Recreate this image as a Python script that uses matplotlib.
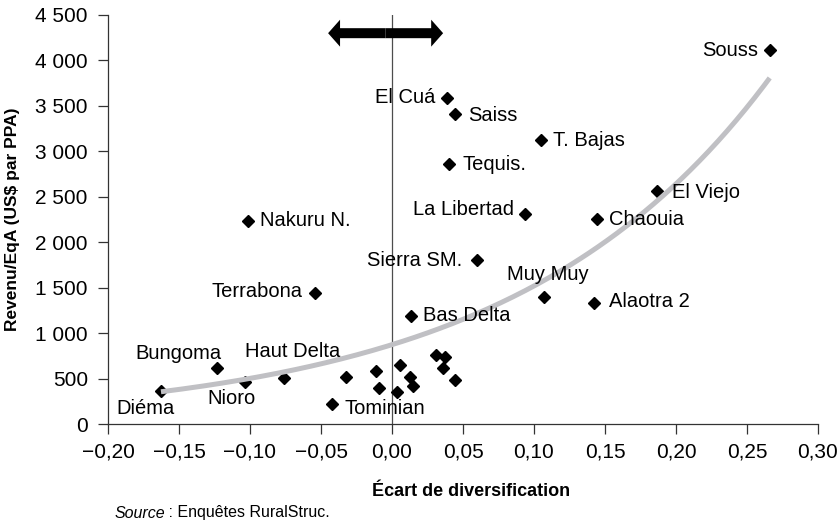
import numpy as np
import matplotlib
matplotlib.use("Agg")
import matplotlib.pyplot as plt
from matplotlib.patches import FancyArrowPatch
from matplotlib.ticker import FixedLocator, FuncFormatter

plt.rcParams["font.family"] = ["Liberation Sans", "DejaVu Sans"]

# Écart de diversification vs revenu par équivalent actif
names = ["Souss", "El Cuá", "Saiss", "T. Bajas", "Tequis.", "El Viejo",
         "La Libertad", "Chaouia", "Nakuru N.", "Sierra SM.", "Muy Muy",
         "Alaotra 2", "Terrabona", "Bas Delta", "Bungoma", "Haut Delta",
         "Nioro", "Diéma", "Tominian",
         "", "", "", "", "", "", "", "", "", "", ""]
ecart = [0.266, 0.0385, 0.0446, 0.1047, 0.0399, 0.1864,
         0.0939, 0.1441, -0.1016, 0.0596, 0.107,
         0.1423, -0.0542, 0.0131, -0.1235, -0.076,
         -0.1035, -0.1627, -0.042,
         -0.0326, -0.0113, -0.0089, 0.0056, 0.0037, 0.0127, 0.0146,
         0.031, 0.0376, 0.0362, 0.0446]
revenu = [4114, 3590, 3407, 3124, 2857, 2563,
          2310, 2255, 2236, 1804, 1400,
          1328, 1444, 1192, 619, 502,
          465, 366, 216,
          513, 583, 392, 649, 356, 513, 418,
          759, 733, 620, 488]

x_ticks = [-0.20, -0.15, -0.10, -0.05, 0.00, 0.05, 0.10, 0.15, 0.20, 0.25, 0.30]
y_ticks = [0, 500, 1000, 1500, 2000, 2500, 3000, 3500, 4000, 4500]

# label placement: (dx, dy) in points, horizontal alignment
label_pos = {
    "Souss": (-8, 0, "right"), "El Cuá": (-8, 0, "right"),
    "Saiss": (9, -1, "left"), "T. Bajas": (9, 0, "left"),
    "Tequis.": (10, 0, "left"), "El Viejo": (11, -1, "left"),
    "La Libertad": (-8, 3, "right"), "Chaouia": (9, 0, "left"),
    "Nakuru N.": (9, 0, "left"), "Sierra SM.": (-10, 0, "right"),
    "Muy Muy": (3, 16, "center"), "Alaotra 2": (11, 1, "left"),
    "Terrabona": (-9, 1, "right"), "Bas Delta": (9, 0, "left"),
    "Bungoma": (3.5, 10, "right"), "Haut Delta": (6.5, 19, "center"),
    "Nioro": (-10, -12, "center"), "Diéma": (-11, -12.5, "center"),
    "Tominian": (9, -3, "left"),
}

x = np.array(ecart)
y = np.array(revenu)

W, H = 840, 522
fig = plt.figure(figsize=(W / 100, H / 100), dpi=100)
ax = fig.add_axes([108 / W, 1 - 424 / H, 710 / W, 409 / H])

ax.axvline(0, color="#4d4d4d", lw=0.9, zorder=1)

ax.plot(x, y, linestyle="none", marker="D", ms=6.3, color="black", zorder=3)

# exponential trend line fitted on the data (log-linear least squares)
b, ln_a = np.polyfit(x, np.log(y), 1)
xs = np.linspace(x.min(), x.max(), 200)
ax.plot(xs, np.exp(ln_a) * np.exp(b * xs), color="#c0c0c4", lw=3.6,
        solid_capstyle="butt", zorder=4)

for n, xi, yi in zip(names, x, y):
    if not n:
        continue
    dx, dy, ha = label_pos[n]
    ax.annotate(n, (xi, yi), xytext=(dx, dy), textcoords="offset points",
                ha=ha, va="center", fontsize=14.5, color="black", zorder=5)

# double-headed arrow above the zero line
arrow_left, arrow_right, arrow_y = -0.045, 0.036, 4300
mid = 0.5 * (arrow_left + arrow_right)
for end in (arrow_left, arrow_right):
    ax.add_patch(FancyArrowPatch((mid, arrow_y), (end, arrow_y),
                                 arrowstyle="simple,head_length=0.86,head_width=1.94,tail_width=0.72",
                                 mutation_scale=10, color="black", lw=0,
                                 shrinkA=0, shrinkB=0, zorder=6))

ax.set_xlim(-0.20, 0.30)
ax.set_ylim(0, 4500)
ax.xaxis.set_major_locator(FixedLocator(x_ticks))
ax.yaxis.set_major_locator(FixedLocator(y_ticks))
ax.xaxis.set_major_formatter(FuncFormatter(
    lambda v, p: f"{v:.2f}".replace(".", ",").replace("-", "\u2212")))
ax.yaxis.set_major_formatter(FuncFormatter(
    lambda v, p: f"{int(round(v)):,}".replace(",", " ")))

for s in ("top", "right"):
    ax.spines[s].set_visible(False)
for s in ("left", "bottom"):
    ax.spines[s].set_color("#333333")
    ax.spines[s].set_linewidth(0.9)
ax.tick_params(axis="both", direction="out", length=7.5, width=0.9,
               color="#333333", labelsize=15)
ax.tick_params(axis="x", pad=5.5)
ax.tick_params(axis="y", pad=7)

fig.text(13 / W, 1 - 219 / H, "Revenu/EqA (US$ par PPA)", rotation=90,
         ha="center", va="center", fontsize=12.5, fontweight="bold")
fig.text(471 / W, 1 - 491 / H, "Écart de diversification", ha="center",
         va="center", fontsize=13, fontweight="bold")

# source note: italic word followed by regular text on a shared baseline
base_y = 1 - 517.5 / H
src = fig.text(115 / W, base_y, "Source", fontsize=11.5, style="italic",
               va="baseline")
fig.canvas.draw()
bb = src.get_window_extent()
fig.text((bb.x1 - 2) / W, base_y, " : Enquêtes RuralStruc.", fontsize=11.5,
         va="baseline")

fig.savefig("out.png", dpi=100)
